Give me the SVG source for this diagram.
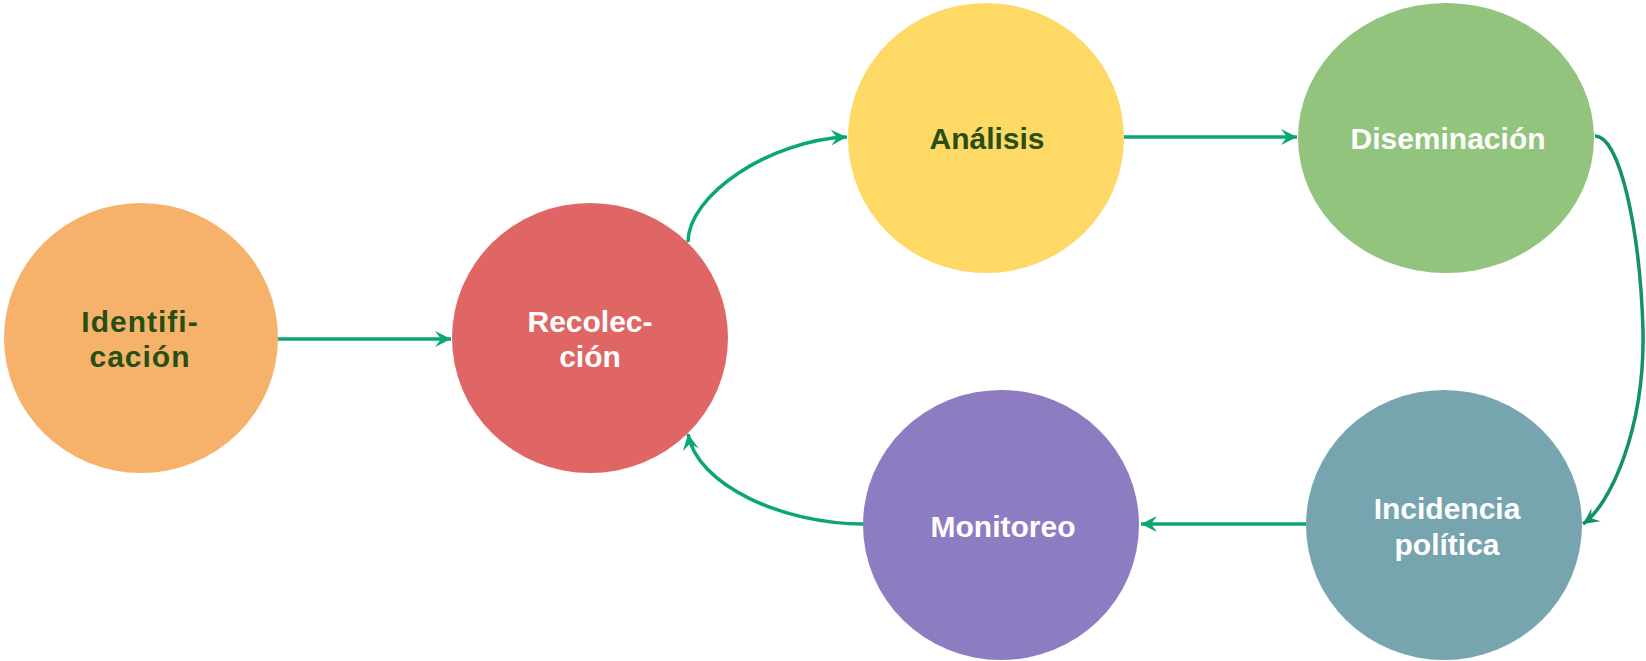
<svg xmlns="http://www.w3.org/2000/svg" width="1646" height="661" viewBox="0 0 1646 661">
  <style>
    .lbl { font-family: "Liberation Sans", Arial, sans-serif; font-weight: bold; font-size: 30px; text-anchor: middle; }
    .dark { fill: #274e13; }
    .light { fill: #ffffff; }
    .conn { fill: none; stroke: #0aa673; stroke-width: 3.5; }
    .conn2 { fill: none; stroke: #14906a; stroke-width: 3.5; }
  </style>
  <defs>
    <marker id="arr" markerUnits="userSpaceOnUse" markerWidth="22" markerHeight="22" viewBox="-19 -11 22 22" refX="0" refY="0" orient="auto">
      <path d="M0,0 L-16,-8 L-10,0 L-16,8 Z" fill="#0aa673"/>
    </marker>
    <marker id="arr2" markerUnits="userSpaceOnUse" markerWidth="22" markerHeight="22" viewBox="-19 -11 22 22" refX="0" refY="0" orient="auto">
      <path d="M0,0 L-16,-8 L-10,0 L-16,8 Z" fill="#14906a"/>
    </marker>
  </defs>
  <rect width="1646" height="661" fill="#ffffff"/>

  <g id="connectors">
    <path class="conn" d="M278,339 L451,339" marker-end="url(#arr)"/>
    <path class="conn" d="M688,242 C688,195 770,140 847,137" marker-end="url(#arr)"/>
    <path class="conn" d="M1123,137 L1297,137" marker-end="url(#arr)"/>
    <path class="conn2" d="M1595,136 C1620,136 1640,230 1643,330 C1645,430 1610,505 1583,524" marker-end="url(#arr2)"/>
    <path class="conn" d="M1306,524 L1141,524" marker-end="url(#arr)"/>
    <path class="conn" d="M864,524 C782,524 697,485 688,434" marker-end="url(#arr)"/>
  </g>

  <g id="identificacion">
    <ellipse cx="141" cy="338" rx="137" ry="135" fill="#f6b26b"/>
    <text class="lbl dark" x="140" y="332" letter-spacing="1">Identifi-</text>
    <text class="lbl dark" x="140" y="367" letter-spacing="1">cación</text>
  </g>
  <g id="recoleccion">
    <ellipse cx="590" cy="338" rx="138" ry="135" fill="#e06666"/>
    <text class="lbl light" x="590" y="332">Recolec-</text>
    <text class="lbl light" x="590" y="367">ción</text>
  </g>
  <g id="analisis">
    <ellipse cx="986" cy="138" rx="138" ry="135" fill="#ffd966"/>
    <text class="lbl dark" x="987" y="149">Análisis</text>
  </g>
  <g id="diseminacion">
    <ellipse cx="1446" cy="138" rx="148" ry="135" fill="#93c47d"/>
    <text class="lbl light" x="1448" y="149">Diseminación</text>
  </g>
  <g id="incidencia">
    <ellipse cx="1444" cy="525" rx="138" ry="135" fill="#76a5af"/>
    <text class="lbl light" x="1447" y="519">Incidencia</text>
    <text class="lbl light" x="1447" y="555">política</text>
  </g>
  <g id="monitoreo">
    <ellipse cx="1001" cy="525" rx="138" ry="135" fill="#8e7cc3"/>
    <text class="lbl light" x="1003" y="537">Monitoreo</text>
  </g>
</svg>
